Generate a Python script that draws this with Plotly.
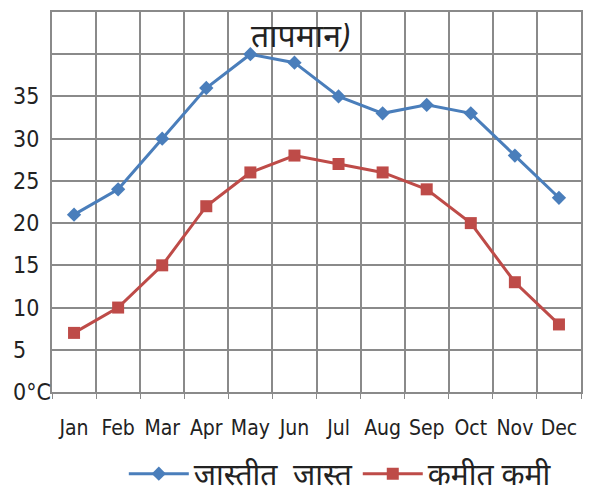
import plotly.graph_objects as go

months = ["Jan", "Feb", "Mar", "Apr", "May", "Jun", "Jul", "Aug", "Sep", "Oct", "Nov", "Dec"]
max_temp = [21, 24, 30, 36, 40, 39, 35, 33, 34, 33, 28, 23]
min_temp = [7, 10, 15, 22, 26, 28, 27, 26, 24, 20, 13, 8]
y_ticks = [0, 5, 10, 15, 20, 25, 30, 35, 40, 45]
y_labels = ["0°C", "5", "10", "15", "20", "25", "30", "35", "", ""]

fig = go.Figure()
fig.add_trace(go.Scatter(x=months, y=max_temp, mode="lines+markers", name="जास्तीत  जास्त",
                         line=dict(color="#4a7ebb", width=3),
                         marker=dict(symbol="diamond", size=11, color="#4a7ebb")))
fig.add_trace(go.Scatter(x=months, y=min_temp, mode="lines+markers", name="कमीत कमी",
                         line=dict(color="#be4b48", width=3),
                         marker=dict(symbol="square", size=12, color="#be4b48")))

fig.add_annotation(text="<i>तापमान)</i>", x=0.47, y=1.0, xref="paper", yref="paper",
                   xanchor="center", yanchor="top", yshift=1, showarrow=False,
                   font=dict(size=32, color="#222"))

# y labels sit left-aligned, like the original
for v, lab in zip(y_ticks, y_labels):
    if lab:
        fig.add_annotation(text=lab, x=0, y=v, xref="paper", yref="y", xanchor="left",
                           xshift=-41, showarrow=False,
                           font=dict(family="DejaVu Sans Condensed", size=23, color="#222"))

fig.update_xaxes(type="category", range=[-0.5, 11.5], tickson="boundaries", showgrid=True,
                 gridcolor="#8a8a8a", gridwidth=2, ticks="outside", ticklen=5,
                 tickcolor="#8a8a8a", showline=True, linecolor="#8a8a8a", linewidth=2,
                 mirror=True, tickangle=0, automargin=False, ticklabelstandoff=16,
                 tickfont=dict(family="DejaVu Sans Condensed", size=21, color="#222"))
fig.update_yaxes(range=[0, 45], tickvals=y_ticks, showticklabels=False, showgrid=True,
                 gridcolor="#8a8a8a", gridwidth=2, zeroline=False, automargin=False,
                 showline=True, linecolor="#8a8a8a", linewidth=2, mirror=True)

# page body adds an 8px margin, so the figure is 8px smaller
fig.update_layout(width=599, height=491, plot_bgcolor="white", paper_bgcolor="white",
                  margin=dict(l=44, r=26, t=4, b=107, autoexpand=False),
                  font=dict(family="Noto Sans, Liberation Sans", color="#222"),
                  legend=dict(orientation="h", x=0.545, xanchor="center", y=-0.215,
                              yanchor="middle", font=dict(size=30), itemwidth=60))

fig.write_html("out.html")
